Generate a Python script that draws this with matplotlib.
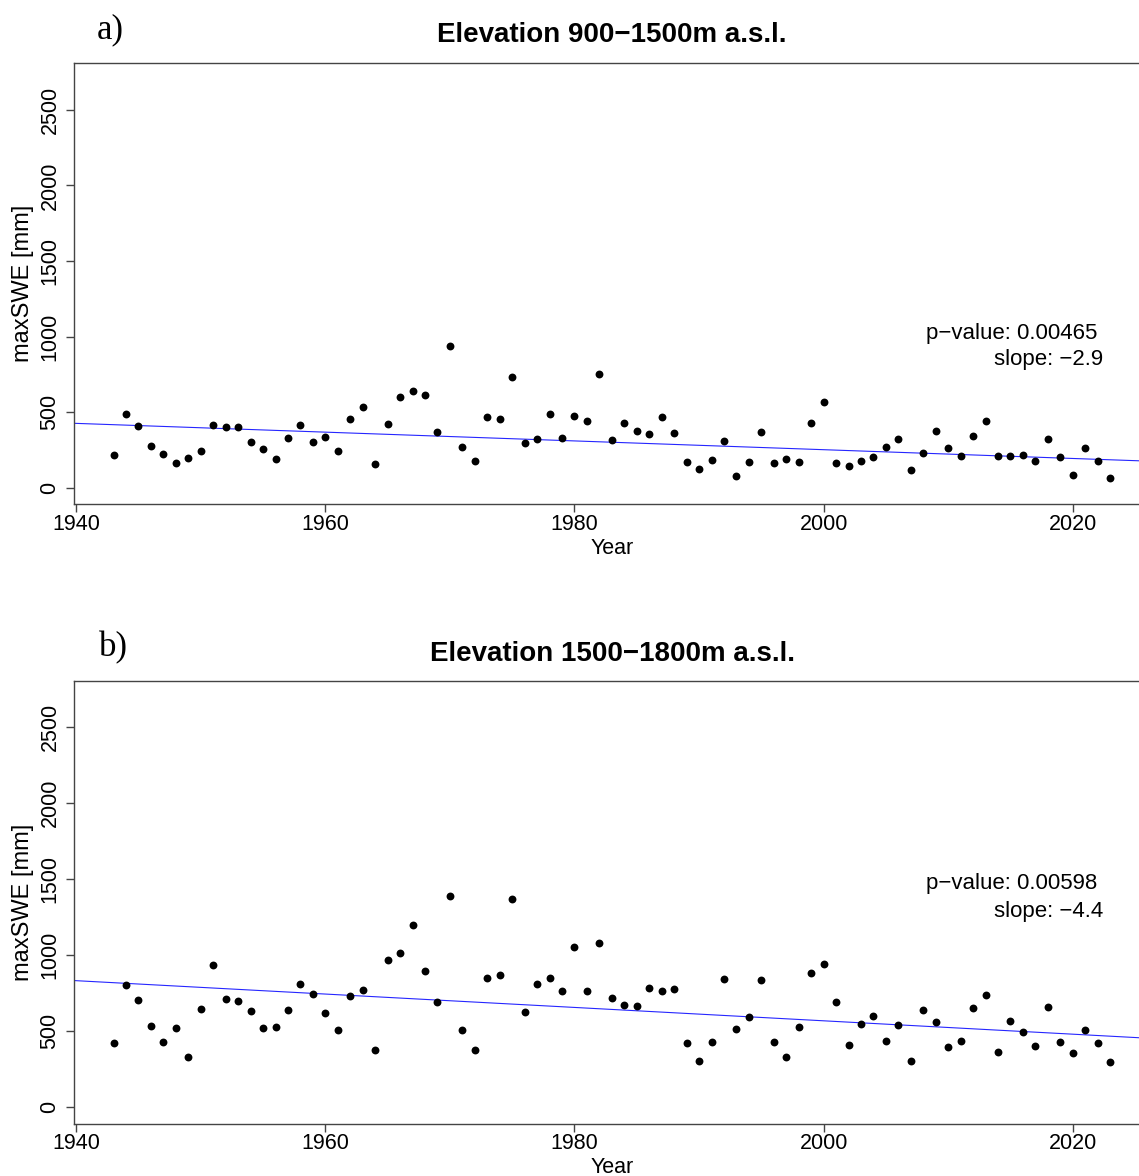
import numpy as np
import matplotlib
matplotlib.use("Agg")
import matplotlib.pyplot as plt

years = list(range(1943, 2024))

swe_a = [218, 491, 408, 280, 225, 167, 198, 245, 414, 405,
         403, 304, 260, 192, 328, 414, 306, 337, 245, 458,
         535, 157, 421, 603, 639, 617, 370, 938, 269, 178,
         469, 454, 736, 295, 322, 491, 333, 478, 441, 756,
         319, 427, 377, 355, 469, 366, 174, 124, 185, 309,
         79, 170, 368, 167, 192, 170, 430, 566, 167, 145,
         176, 207, 273, 326, 121, 231, 379, 266, 211, 346,
         441, 214, 214, 220, 178, 322, 207, 86, 266, 178,
         64]

swe_b = [425, 805, 708, 537, 432, 524, 331, 649, 936, 710,
         699, 636, 520, 528, 640, 813, 745, 618, 511, 730,
         772, 377, 967, 1017, 1199, 897, 691, 1390, 511, 375,
         853, 872, 1368, 625, 813, 851, 765, 1053, 763, 1079,
         719, 673, 664, 783, 765, 780, 425, 303, 428, 846,
         517, 596, 837, 430, 329, 530, 883, 945, 693, 408,
         546, 603, 436, 541, 307, 638, 563, 395, 438, 651,
         739, 364, 568, 493, 405, 662, 432, 355, 511, 421,
         298]

titles = ["Elevation 900\u22121500m a.s.l.", "Elevation 1500\u22121800m a.s.l."]
panel_labels = ["a)", "b)"]
pvalues = ["0.00465", "0.00598"]
slopes = [-2.9, -4.4]            # trend slope (mm / year)
trend_at_1940 = [427, 833]       # trend line value at 1940
xticks = [1940, 1960, 1980, 2000, 2020]
yticks = [0, 500, 1000, 1500, 2000, 2500]

W, H = 1139, 1176
fig = plt.figure(figsize=(W / 100, H / 100), dpi=100)
plt.rcParams['font.family'] = ['Liberation Sans', 'DejaVu Sans']

axes_px = [(63.2, 504.3), (680.5, 1123.7)]  # top, bottom in pixels
left_px, right_px = 73.7, 1150.0
series = [swe_a, swe_b]

for k in range(2):
    top, bot = axes_px[k]
    ax = fig.add_axes([left_px / W, 1 - bot / H, (right_px - left_px) / W, (bot - top) / H])
    y = series[k]
    ax.scatter(years, y, s=32, color='black', zorder=3, linewidths=0)
    ax.axline((1940, trend_at_1940[k]), slope=slopes[k], color='#0000ff', lw=0.8,
              alpha=0.85, zorder=2)
    ax.set_xlim(1939.8, 2026.2)
    ax.set_ylim(-108, 2808)
    ax.set_xticks(xticks)
    ax.set_yticks(yticks)
    ax.set_xticklabels([str(t) for t in xticks], fontsize=15.5)
    ax.set_yticklabels([str(t) for t in yticks], fontsize=15.5, rotation=90, va='center')
    ax.tick_params(axis='both', direction='out', length=5.5, width=1, color='#444444')
    ax.tick_params(axis='x', pad=1.5)
    ax.tick_params(axis='y', pad=4)
    for sp in ax.spines.values():
        sp.set_color('#444444')
        sp.set_linewidth(1.0)
    ax.set_xlabel("Year", fontsize=15.5, va='center')
    ax.xaxis.set_label_coords(0.5, -(548.5 - 504.3) / (bot - top))
    ax.set_ylabel("maxSWE [mm]", fontsize=17, va='center')
    ax.yaxis.set_label_coords(-(left_px - 23) / (right_px - left_px), 0.5)

    fig.text(1097 / W, 1 - (334 + (0 if k == 0 else 550)) / H, "p\u2212value: " + pvalues[k],
             ha='right', va='center', fontsize=16)
    fig.text(1103 / W, 1 - (360 + (0 if k == 0 else 551)) / H,
             "slope: \u2212" + str(abs(slopes[k])),
             ha='right', va='center', fontsize=16)

    title_y = 35 if k == 0 else 654
    fig.text(612 / W, 1 - title_y / H, titles[k], ha='center', va='center',
             fontsize=20, fontweight='bold')
    lab_y = 30 if k == 0 else 648
    lab_x = 110 if k == 0 else 113
    fig.text(lab_x / W, 1 - lab_y / H, panel_labels[k], ha='center', va='center',
             fontsize=25, family='Liberation Serif')

fig.savefig("out.png", dpi=100, facecolor='white')
